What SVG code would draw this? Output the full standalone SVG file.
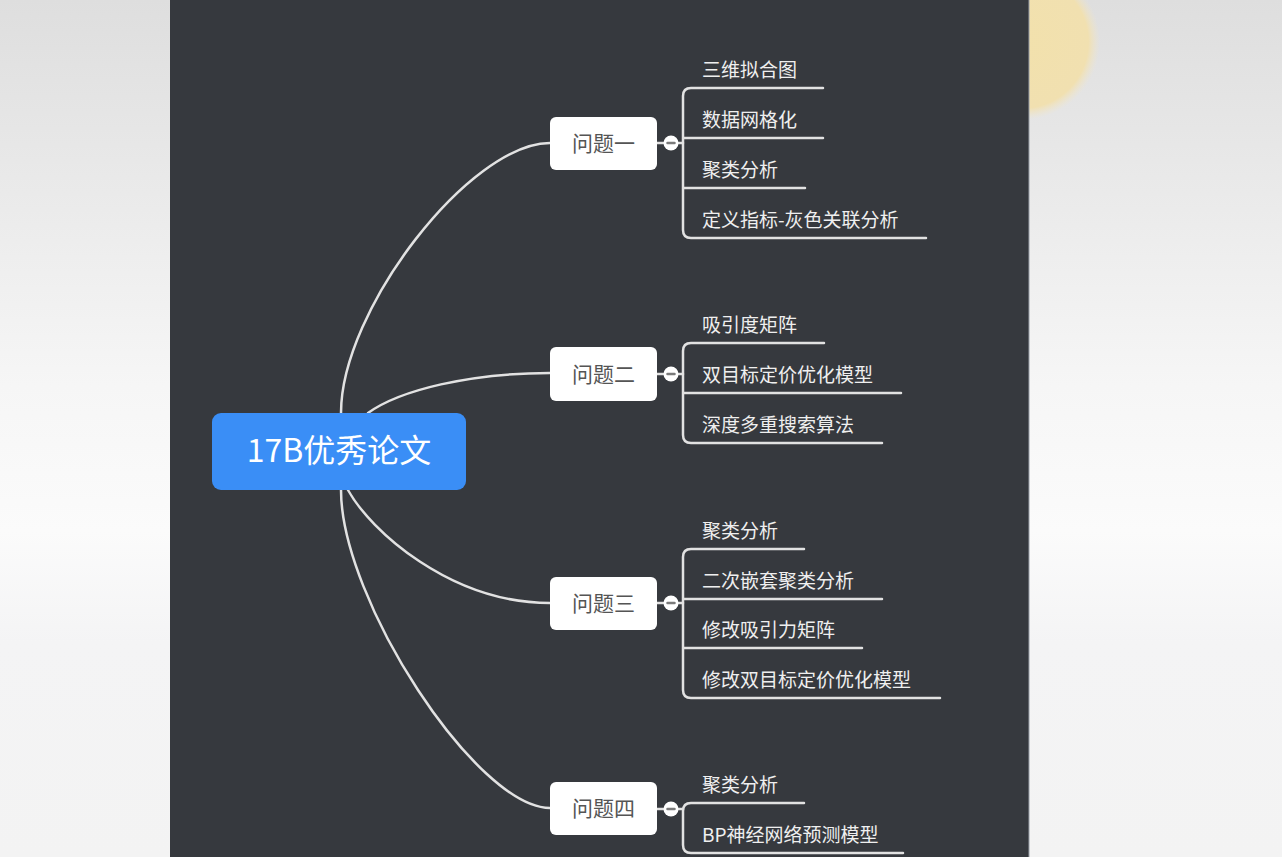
<svg xmlns="http://www.w3.org/2000/svg" width="1282" height="857" viewBox="0 0 1282 857">
<defs>
<linearGradient id="bg" x1="0" y1="0" x2="0" y2="1">
<stop offset="0" stop-color="#dedede"/>
<stop offset="0.45" stop-color="#f6f6f6"/>
<stop offset="0.62" stop-color="#fbfbfb"/>
<stop offset="0.75" stop-color="#f4f4f5"/>
<stop offset="1" stop-color="#f3f3f3"/>
</linearGradient>
<radialGradient id="sun" cx="0.5" cy="0.5" r="0.5">
<stop offset="0" stop-color="#f2e1ac"/>
<stop offset="0.85" stop-color="#f1e0b0"/>
<stop offset="1" stop-color="#f1e6c8" stop-opacity="0"/>
</radialGradient>
<style>
.conn{fill:none;stroke:#e2e2e2;stroke-width:2.5;stroke-linecap:round}
.topic rect{fill:#ffffff}
.topic text{font-family:"Noto Sans CJK SC","Noto Sans",sans-serif;font-size:21px;fill:#555555;text-anchor:middle}
.leaf{font-family:"Noto Sans CJK SC","Noto Sans",sans-serif;font-size:19px;fill:#efefef}
.tog circle{fill:#ffffff}
.tog line{stroke:#7a7a7a;stroke-width:2.5;stroke-linecap:round}
</style>
</defs>
<rect x="0" y="0" width="1282" height="857" fill="url(#bg)"/>
<circle cx="1022" cy="42" r="78" fill="url(#sun)"/>
<rect x="170" y="0" width="859" height="857" fill="#36393e"/>
<line x1="1029" y1="0" x2="1029" y2="857" stroke="#9aa0a8" stroke-width="1"/>

<g id="connectors">
<path class="conn" d="M341 413 C341 310 470 143 550 143"/>
<path class="conn" d="M368 413 C400 390 470 373 550 373"/>
<path class="conn" d="M348 490 C370 530 450 603 550 603"/>
<path class="conn" d="M341 490 C341 600 477 808 550 808"/>
<path class="conn" d="M657 143 H664 M678 143 H683"/>
<path class="conn" d="M823 88 H691 Q683 88 683 96 V230 Q683 238 691 238 H926 M683 138 H823 M683 188 H805"/>
<path class="conn" d="M657 374 H664 M678 374 H683"/>
<path class="conn" d="M824 343 H691 Q683 343 683 351 V435 Q683 443 691 443 H882 M683 393 H901"/>
<path class="conn" d="M657 603 H664 M678 603 H683"/>
<path class="conn" d="M804 549 H691 Q683 549 683 557 V690 Q683 698 691 698 H940 M683 599 H882 M683 648 H862"/>
<path class="conn" d="M657 809 H664 M678 809 H683"/>
<path class="conn" d="M804 803 H691 Q683 803 683 811 V845 Q683 853 691 853 H903"/>
</g>

<g id="root">
<rect x="212" y="413" width="254" height="77" rx="9" fill="#3a8ef6"/>
<text x="339" y="462" font-family="'Noto Sans CJK SC','Noto Sans',sans-serif" font-size="32" fill="#ffffff" text-anchor="middle">17B优秀论文</text>
</g>

<g id="topic1" class="topic">
<rect x="550" y="117" width="107" height="53" rx="6"/>
<text x="603.5" y="151">问题一</text>
</g>
<g id="topic2" class="topic">
<rect x="550" y="347" width="107" height="54" rx="6"/>
<text x="603.5" y="382">问题二</text>
</g>
<g id="topic3" class="topic">
<rect x="550" y="577" width="107" height="53" rx="6"/>
<text x="603.5" y="611">问题三</text>
</g>
<g id="topic4" class="topic">
<rect x="550" y="782" width="107" height="53" rx="6"/>
<text x="603.5" y="816">问题四</text>
</g>

<g id="toggles" class="tog">
<circle cx="671" cy="143" r="7.5"/><line x1="667.5" y1="143" x2="674.5" y2="143"/>
<circle cx="671" cy="374" r="7.5"/><line x1="667.5" y1="374" x2="674.5" y2="374"/>
<circle cx="671" cy="603" r="7.5"/><line x1="667.5" y1="603" x2="674.5" y2="603"/>
<circle cx="671" cy="809" r="7.5"/><line x1="667.5" y1="809" x2="674.5" y2="809"/>
</g>

<g id="leaves1">
<text class="leaf" x="702" y="77">三维拟合图</text>
<text class="leaf" x="702" y="127">数据网格化</text>
<text class="leaf" x="702" y="177">聚类分析</text>
<text class="leaf" x="702" y="227">定义指标-灰色关联分析</text>
</g>
<g id="leaves2">
<text class="leaf" x="702" y="332">吸引度矩阵</text>
<text class="leaf" x="702" y="382">双目标定价优化模型</text>
<text class="leaf" x="702" y="432">深度多重搜索算法</text>
</g>
<g id="leaves3">
<text class="leaf" x="702" y="538">聚类分析</text>
<text class="leaf" x="702" y="588">二次嵌套聚类分析</text>
<text class="leaf" x="702" y="637">修改吸引力矩阵</text>
<text class="leaf" x="702" y="687">修改双目标定价优化模型</text>
</g>
<g id="leaves4">
<text class="leaf" x="702" y="792">聚类分析</text>
<text class="leaf" x="702" y="842">BP神经网络预测模型</text>
</g>
</svg>
